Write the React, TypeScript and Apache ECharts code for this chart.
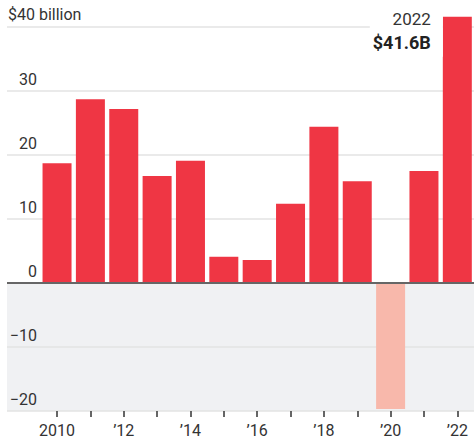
import React, { useEffect, useRef } from "react";
import * as echarts from "echarts";

const years = [2010, 2011, 2012, 2013, 2014, 2015, 2016, 2017, 2018, 2019, 2020, 2021, 2022];
const values = [18.7, 28.7, 27.2, 16.7, 19.1, 4.1, 3.6, 12.4, 24.4, 15.9, -19.7, 17.5, 41.6];
const yTicks = [-20, -10, 0, 10, 20, 30, 40];
const unitLabel = "$40 billion";

const FONT = "Roboto";
const TEXT = "#333";

export default function App() {
  const ref = useRef<HTMLDivElement>(null);
  useEffect(() => {
    if (!ref.current) return;
    const chart = echarts.init(ref.current, undefined, { renderer: "svg" });
    const cats = ["", ...years.map(String)];
    const lastIdx = years.length - 1;
    const data: any[] = [null];
    years.forEach((y, i) => {
      const v = values[i];
      const item: any = {
        value: v,
        itemStyle: { color: v < 0 ? "#f8b8ab" : "#ef3644" },
      };
      if (i === lastIdx) {
        item.label = {
          show: true,
          position: [0, -10],
          align: "right",
          verticalAlign: "top",
          backgroundColor: "#fff",
          padding: [0, 12, 2, 3],
          formatter: () => `{a|${y}}\n{b|$${v}B}`,
          rich: {
            a: { fontFamily: FONT, fontSize: 17, color: TEXT, lineHeight: 24, align: "right" },
            b: { fontFamily: FONT, fontSize: 18, fontWeight: "bold", color: "#222", lineHeight: 24, align: "right" },
          },
        };
      }
      data.push(item);
    });
    chart.setOption({
      animation: false,
      grid: { left: 7, top: 27, width: 469, height: 384, containLabel: false },
      xAxis: {
        type: "category",
        data: cats,
        axisLine: { show: false, onZero: false },
        axisTick: {
          show: true,
          alignWithLabel: true,
          interval: (idx: number) => idx > 0,
          length: 6,
          lineStyle: { color: "#333", width: 1.5 },
        },
        axisLabel: {
          interval: (idx: number, val: string) => idx > 0 && Number(val) % 2 === 0,
          formatter: (val: string) => (val === "2010" ? val : "\u2019" + val.slice(2)),
          fontFamily: FONT,
          fontSize: 16,
          color: TEXT,
          margin: 11,
        },
      },
      yAxis: {
        type: "value",
        min: -20,
        max: 40,
        interval: 10,
        axisLine: { show: false },
        axisTick: { show: false },
        splitLine: { show: true, lineStyle: { color: "#e3e3e3", width: 1.5 } },
        splitArea: {
          show: true,
          areaStyle: { color: ["#f0f1f3", "#f0f1f3", "#ffffff", "#ffffff", "#ffffff", "#ffffff"] },
        },
        axisLabel: {
          inside: true,
          margin: 30,
          align: "right",
          verticalAlign: "bottom",
          padding: [0, 0, 4, 0],
          fontFamily: FONT,
          fontSize: 16,
          color: TEXT,
          formatter: (v: number) =>
            v === yTicks[yTicks.length - 1] ? "" : v < 0 ? "\u2212" + Math.abs(v) : String(v),
        },
      },
      graphic: [
        {
          type: "text",
          left: 8,
          top: 6,
          style: { text: unitLabel, fontFamily: FONT, fontSize: 16, fill: TEXT },
        },
      ],
      series: [
        {
          type: "bar",
          data,
          barWidth: 29,
          clip: false,
          markLine: {
            silent: true,
            symbol: "none",
            label: { show: false },
            lineStyle: { color: "#666", width: 2, type: "solid" },
            data: [{ yAxis: 0 }],
          },
        },
      ],
    });
    return () => chart.dispose();
  }, []);
  return <div ref={ref} style={{ width: 474, height: 447, position: "absolute", left: 0, top: 0 }} />;
}
